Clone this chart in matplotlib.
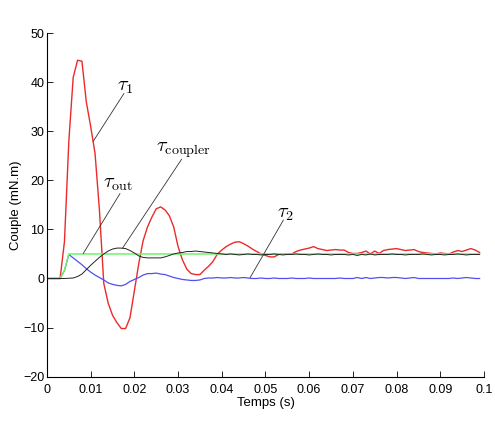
import matplotlib
matplotlib.use('Agg')
import matplotlib.pyplot as plt
import numpy as np

plt.rcParams['font.family'] = ['Liberation Sans', 'DejaVu Sans']
plt.rcParams['mathtext.fontset'] = 'cm'

# Time samples (1 ms)
t = np.arange(100) * 0.001

# tau_1 (red)
tau1 = [0, 0, 0, 0, 7.5, 28, 41, 44.5, 44.3, 36,
        31, 25.5, 14, -1, -5, -7.5, -9, -10.2, -10.2, -8,
        -2.5, 3, 7.7, 10.5, 12.5, 14.2, 14.6, 14, 12.8, 10.5,
        6.5, 3.8, 1.9, 1.0, 0.8, 0.8, 1.7, 2.5, 3.5, 5.0,
        5.8, 6.5, 7.0, 7.4, 7.5, 7.1, 6.6, 6.0, 5.5, 5.0,
        4.7, 4.4, 4.4, 4.9, 5.0, 5.0, 5.0, 5.5, 5.8, 6.0,
        6.2, 6.5, 6.1, 5.9, 5.7, 5.8, 5.9, 5.8, 5.8, 5.3,
        5.1, 5.1, 5.3, 5.6, 5.0, 5.6, 5.1, 5.7, 5.9, 6.0,
        6.1, 5.9, 5.7, 5.8, 5.9, 5.5, 5.3, 5.2, 5.1, 5.0,
        5.2, 5.1, 5.0, 5.4, 5.7, 5.5, 5.8, 6.1, 5.8, 5.3]

# tau_coupler (black)
tau_coupler = [0, 0, 0, 0, 0, 0.05, 0.1, 0.4, 0.9, 1.8,
               2.7, 3.5, 4.3, 5.0, 5.6, 6.0, 6.2, 6.2, 6.1, 5.7,
               5.2, 4.6, 4.3, 4.2, 4.2, 4.2, 4.2, 4.4, 4.7, 5.0,
               5.2, 5.3, 5.5, 5.5, 5.6, 5.5, 5.4, 5.3, 5.2, 5.1,
               5.0, 4.9, 5.0, 4.9, 4.8, 4.9, 5.0, 4.9, 4.9, 4.8,
               4.9, 4.9, 5.0, 4.9, 4.8, 4.9, 4.9, 5.0, 4.9, 4.9,
               4.8, 4.9, 5.0, 4.9, 4.9, 4.8, 4.9, 4.9, 4.9, 4.8,
               4.9, 4.7, 4.9, 4.8, 5.0, 4.8, 4.9, 4.9, 4.9, 5.0,
               4.9, 4.9, 4.8, 4.9, 4.9, 4.9, 5.0, 4.9, 4.8, 4.9,
               4.9, 4.8, 4.9, 4.9, 5.0, 4.9, 4.8, 4.9, 4.9, 4.9]

# tau_out (green)
tau_out = [0, 0, 0, 0, 1.7] + [5.0] * 95

# tau_2 (blue)
tau2 = [0, 0, 0, 0, 1.6, 4.9, 4.2, 3.5, 2.8, 2.0,
        1.3, 0.7, 0.2, -0.3, -0.9, -1.2, -1.4, -1.5, -1.2, -0.6,
        -0.2, 0.2, 0.7, 1.0, 1.0, 1.1, 0.9, 0.8, 0.5, 0.2,
        0.0, -0.2, -0.3, -0.4, -0.4, -0.3, 0.0, 0.1, 0.1, 0.2,
        0.1, 0.1, 0.2, 0.1, 0.1, 0.2, 0.1, 0.0, 0.0, 0.1,
        0.0, 0.0, 0.1, 0.0, 0.0, 0.0, 0.1, 0.0, 0.0, 0.0,
        0.1, 0.0, 0.0, 0.0, 0.0, 0.0, 0.0, 0.1, 0.0, 0.0,
        0.0, 0.2, 0.0, 0.2, 0.0, 0.1, 0.2, 0.2, 0.1, 0.2,
        0.2, 0.1, 0.0, 0.1, 0.2, 0.0, 0.0, 0.0, 0.0, 0.0,
        0.0, 0.0, 0.0, 0.1, 0.0, 0.1, 0.2, 0.1, 0.0, 0.0]

fig = plt.figure(figsize=(4.95, 4.21), dpi=100)
ax = fig.add_axes([0.0949, 0.1055, 0.8828, 0.8155])

ax.plot(t, tau1, color='#ec2a2a', lw=1.0)
ax.plot(t, tau2, color='#5050f0', lw=0.9)
ax.plot(t, tau_out, color='#6cf56c', lw=1.1)
ax.plot(t, tau_coupler, color='#222222', lw=0.7)

# labels with leader lines
labels = [
    (r'$\tau_1$', (0.01785, 39.2), (0.0176, 37.7), (0.0106, 28.0)),
    (r'$\tau_{\mathrm{coupler}}$', (0.0313, 26.2), (0.0308, 24.3), (0.0173, 6.2)),
    (r'$\tau_{\mathrm{out}}$', (0.0162, 19.4), (0.0167, 17.3), (0.0083, 5.1)),
    (r'$\tau_2$', (0.0547, 13.3), (0.0541, 11.9), (0.0465, 0.2)),
]
for txt, pos, p0, p1 in labels:
    ax.text(pos[0], pos[1], txt, fontsize=14.5, ha='center', va='center')
    ax.plot([p0[0], p1[0]], [p0[1], p1[1]], color='#333333', lw=0.6)

ax.set_xlim(0, 0.1)
ax.set_ylim(-20, 50)
ax.set_xticks(np.arange(0, 0.1001, 0.01))
ax.set_xticklabels(['0', '0.01', '0.02', '0.03', '0.04', '0.05',
                    '0.06', '0.07', '0.08', '0.09', '0.1'])
ax.set_yticks(np.arange(-20, 51, 10))
ax.spines['top'].set_visible(False)
ax.spines['right'].set_visible(False)
ax.tick_params(direction='in', length=4, labelsize=9, width=0.6, pad=2)
ax.tick_params(axis='x', pad=5)
for s in ['left', 'bottom']:
    ax.spines[s].set_linewidth(0.8)
ax.set_xlabel('Temps (s)', fontsize=9.5, labelpad=1)
ax.set_ylabel('Couple (mN.m)', fontsize=9.5, labelpad=1)

fig.savefig('out.png', dpi=100)
